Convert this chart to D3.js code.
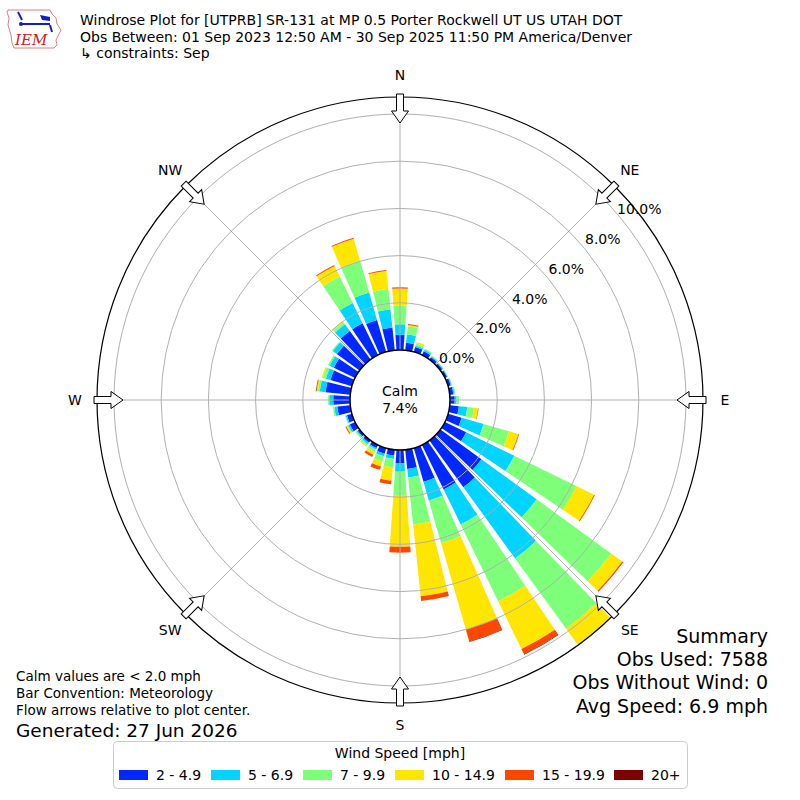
<!DOCTYPE html>
<html><head><meta charset="utf-8">
<script src="https://cdn.jsdelivr.net/npm/d3@7"></script>
<style>body{margin:0;background:#fff} svg{display:block} text{font-family:"DejaVu Sans",sans-serif;fill:#000}</style>
</head><body><svg id="c" width="800" height="800"></svg>
<script>
// ---- data (percent of observations per direction / speed bin) ----
const directions = [0,10,20,30,40,50,60,70,80,90,100,110,120,130,140,150,160,170,180,190,200,210,220,230,240,250,260,270,280,290,300,310,320,330,340,350];
const speedBins = ["2 - 4.9","5 - 6.9","7 - 9.9","10 - 14.9","15 - 19.9","20+"];
const binColors = ["#0028ff","#00d4ff","#7dff7a","#ffe600","#ff4700","#7f0000"];
const spd2to5   = [0.64,0.32,0.22,0.18,0.12,0.10,0.10,0.12,0.15,0.20,0.39,0.60,1.00,2.15,2.45,2.10,1.49,0.82,0.56,0.25,0.25,0.15,0.12,0.10,0.25,0.22,0.55,0.71,1.05,0.95,1.00,1.19,1.50,1.50,1.41,0.97];
const spd5to7   = [0.45,0.36,0.06,0.07,0.05,0.04,0.03,0.04,0.05,0.08,0.36,0.97,2.27,2.89,3.73,1.65,0.82,0.36,0.36,0.14,0.11,0.07,0.08,0.05,0.08,0.06,0.13,0.17,0.25,0.20,0.20,0.21,0.35,0.95,1.21,0.78];
const spd7to10  = [0.79,0.34,0.09,0.05,0.03,0.02,0.02,0.02,0.04,0.10,0.28,1.12,2.93,3.90,3.68,3.62,1.88,2.01,0.99,0.36,0.23,0.11,0.08,0.05,0.05,0.02,0.06,0.05,0.08,0.13,0.07,0.05,0.10,1.25,1.40,0.86];
const spd10to15 = [0.73,0.06,0.07,0.00,0.00,0.00,0.00,0.00,0.00,0.00,0.18,0.41,0.83,0.58,1.14,2.25,3.81,3.05,2.19,0.57,0.22,0.13,0.04,0.00,0.04,0.00,0.00,0.00,0.05,0.05,0.00,0.00,0.07,0.50,0.97,0.77];
const spd15to20 = [0.05,0.04,0.00,0.00,0.00,0.00,0.00,0.00,0.00,0.00,0.02,0.03,0.04,0.06,0.15,0.25,0.53,0.20,0.25,0.15,0.15,0.11,0.00,0.00,0.04,0.00,0.00,0.00,0.04,0.00,0.00,0.00,0.00,0.04,0.04,0.04];
const spd20up   = [0,0,0,0,0,0,0,0,0,0,0,0,0,0,0,0.02,0.02,0,0,0,0,0,0,0,0,0,0,0,0,0,0,0,0,0,0,0];
const radialTicks = [0,2,4,6,8,10];
const compassLabels = ["N","NE","E","SE","S","SW","W","NW"];
const compassAngles = [0,45,90,135,180,225,270,315];
const calmText = "7.4%";
const titleLines = ["Windrose Plot for [UTPRB] SR-131 at MP 0.5 Porter Rockwell UT US UTAH DOT",
                    "Obs Between: 01 Sep 2023 12:50 AM - 30 Sep 2025 11:50 PM America/Denver",
                    " \u21b3 constraints: Sep"];
const noteLines = ["Calm values are < 2.0 mph","Bar Convention: Meteorology","Flow arrows relative to plot center."];
const generatedText = "Generated: 27 Jun 2026";
const summaryLines = ["Summary","Obs Used: 7588","Obs Without Wind: 0","Avg Speed: 6.9 mph"];

// ---- build table ----
const keys = ["b0","b1","b2","b3","b4","b5"];
const series = [spd2to5,spd5to7,spd7to10,spd10to15,spd15to20,spd20up];
const rows = directions.map((d,i)=>{const o={dir:d}; keys.forEach((k,j)=>o[k]=series[j][i]); return o;});
const stacked = d3.stack().keys(keys)(rows);

const svg = d3.select("#c");
const cx = 400, cy = 400, rOuter = 303;
const r = d3.scaleLinear().domain([0,10]).range([50,286]);
const toRad = a => a*Math.PI/180;

svg.append("defs").append("clipPath").attr("id","clip")
  .append("circle").attr("cx",0).attr("cy",0).attr("r",rOuter);

const g = svg.append("g").attr("transform",`translate(${cx},${cy})`);

// bars
const arc = d3.arc()
  .innerRadius(d=>r(d[0])).outerRadius(d=>r(d[1]))
  .startAngle(d=>toRad(d.data.dir-4)).endAngle(d=>toRad(d.data.dir+4));
const barG = g.append("g").attr("clip-path","url(#clip)");
stacked.forEach((s,j)=>{
  barG.append("g").attr("fill",binColors[j])
    .selectAll("path").data(s.filter(d=>d[1]-d[0]>0)).join("path").attr("d",arc);
});

// grid
const grid = g.append("g").attr("stroke","#b0b0b0").attr("stroke-width",1).attr("fill","none");
grid.selectAll("circle").data(radialTicks).join("circle").attr("r",d=>r(d));
grid.selectAll("line").data(compassAngles).join("line")
  .attr("x1",0).attr("y1",0)
  .attr("x2",d=>rOuter*Math.sin(toRad(d))).attr("y2",d=>-rOuter*Math.cos(toRad(d)));

// outer circle
g.append("circle").attr("r",rOuter).attr("fill","none").attr("stroke","#000").attr("stroke-width",1.2);

// calm circle
g.append("circle").attr("r",r(0)).attr("fill","#fff").attr("stroke","#000").attr("stroke-width",1.5);
g.append("text").attr("x",0).attr("y",-9).attr("text-anchor","middle").attr("dominant-baseline","central").style("font-size","14px").text("Calm");
g.append("text").attr("x",0).attr("y",8).attr("text-anchor","middle").attr("dominant-baseline","central").style("font-size","14px").text(calmText);

// radial labels
const la = toRad(50.7);
g.selectAll("text.rl").data(radialTicks).join("text").attr("class","rl")
  .attr("x",d=>r(d)*Math.sin(la)+18).attr("y",d=>-r(d)*Math.cos(la)-10)
  .attr("text-anchor","middle").attr("dominant-baseline","central").style("font-size","14px")
  .text(d=>d3.format(".1f")(d)+"%");

// flow arrows
const arrowPath = "M-3.5,-306L3.5,-306L3.5,-289L8.5,-289L0,-277L-8.5,-289L-3.5,-289Z";
g.selectAll("path.arrow").data(compassAngles).join("path").attr("class","arrow")
  .attr("d",arrowPath).attr("transform",d=>`rotate(${d})`)
  .attr("fill","#fff").attr("stroke","#000").attr("stroke-width",1);

// compass labels
g.selectAll("text.cl").data(compassAngles).join("text").attr("class","cl")
  .attr("x",d=>325*Math.sin(toRad(d))).attr("y",d=>-325*Math.cos(toRad(d)))
  .attr("text-anchor","middle").attr("dominant-baseline","central").style("font-size","14px")
  .text((d,i)=>compassLabels[i]);

// titles
svg.selectAll("text.title").data(titleLines).join("text").attr("class","title")
  .attr("x",80).attr("y",(d,i)=>[25,42,58][i]).style("font-size","14px").text(d=>d);

// logo
const logo = svg.append("g");
logo.append("path").attr("d","M8,10L50,10L52,14L56,18L57,24L61,30L58,36L56,40L57,45L54,48L14,48L12,43L11,35L8,25L9,18L7,12Z")
  .attr("fill","none").attr("stroke","#d06060").attr("stroke-width",0.8);
logo.append("text").attr("x",15).attr("y",45).style("font-family","'DejaVu Serif',serif").style("font-style","italic")
  .style("font-size","15px").style("fill","#d02020").text("IEM");
const bl = logo.append("g").attr("stroke","#1020c0").attr("stroke-width",2).attr("fill","none");
bl.append("line").attr("x1",22).attr("y1",24).attr("x2",50).attr("y2",24);
bl.append("line").attr("x1",18).attr("y1",12).attr("x2",22).attr("y2",20);
bl.append("line").attr("x1",50).attr("y1",25).attr("x2",52).attr("y2",32);
logo.append("path").attr("d","M40,15L50,17L50,21L42,20Z").attr("fill","#1020c0");
logo.append("circle").attr("cx",21).attr("cy",24).attr("r",2).attr("fill","#1020c0");

// notes
svg.selectAll("text.note").data(noteLines).join("text").attr("class","note")
  .attr("x",16).attr("y",(d,i)=>676+i*17).attr("dominant-baseline","central").style("font-size","13.5px").text(d=>d);
svg.append("text").attr("x",16).attr("y",730).attr("dominant-baseline","central").style("font-size","18.5px").text(generatedText);

// summary
svg.selectAll("text.sum").data(summaryLines).join("text").attr("class","sum")
  .attr("x",768).attr("y",(d,i)=>[636,659,682,706][i]).attr("text-anchor","end").attr("dominant-baseline","central")
  .style("font-size","19px").text(d=>d);

// legend
const lg = svg.append("g");
lg.append("rect").attr("x",113.5).attr("y",741.5).attr("width",574).attr("height",47).attr("rx",4)
  .attr("fill","#fff").attr("stroke","#cccccc");
lg.append("text").attr("x",400).attr("y",753).attr("text-anchor","middle").attr("dominant-baseline","central")
  .style("font-size","14px").text("Wind Speed [mph]");
const swX = [119,211,303,395,505,614];
speedBins.forEach((b,i)=>{
  lg.append("rect").attr("x",swX[i]).attr("y",770).attr("width",29).attr("height",10).attr("fill",binColors[i]);
  lg.append("text").attr("x",swX[i]+37).attr("y",775).attr("dominant-baseline","central").style("font-size","14px").text(b);
});
</script></body></html>
